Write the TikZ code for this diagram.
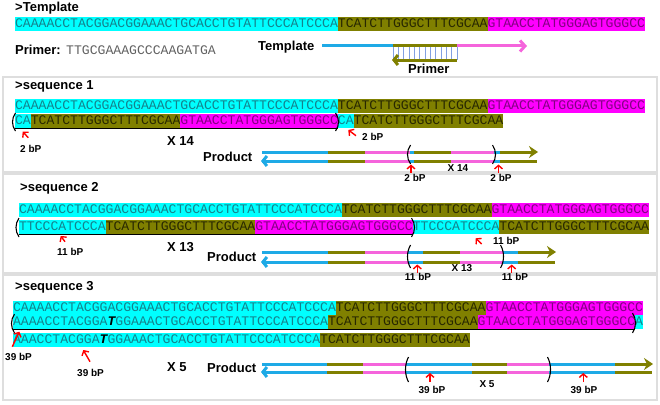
\documentclass[tikz,border=0pt]{standalone}
\usepackage{fontspec}
\setmainfont{Liberation Sans}
\newfontfamily\monof{Liberation Mono}
\usetikzlibrary{arrows.meta}
\newcommand\seqf{\monof\fontsize{13.125}{14}\selectfont}
\newcommand\hdf{\bfseries\fontsize{13}{15}\selectfont}
\newcommand\smf{\bfseries\fontsize{10}{12}\selectfont}
\definecolor{cyanH}{RGB}{0,255,255}
\definecolor{oliveH}{RGB}{128,128,0}
\definecolor{magH}{RGB}{255,0,255}
\definecolor{cyanT}{RGB}{20,130,140}
\definecolor{oliveT}{RGB}{40,40,0}
\definecolor{magT}{RGB}{130,0,130}
\definecolor{lblue}{RGB}{30,170,230}
\definecolor{lpink}{RGB}{245,100,220}
\definecolor{olv}{RGB}{128,128,0}
\definecolor{hatchc}{RGB}{130,160,225}
\definecolor{panelc}{RGB}{222,222,222}
\newcommand\myLbr[3]{\draw[brk] ({#1+2.5},#2) .. controls ({#1-1.5},{#2+0.3*(#3-#2)}) and ({#1-1.5},{#2+0.7*(#3-#2)}) .. ({#1+2.5},#3);}
\newcommand\myRbr[3]{\draw[brk] ({#1-2.5},#2) .. controls ({#1+1.5},{#2+0.3*(#3-#2)}) and ({#1+1.5},{#2+0.7*(#3-#2)}) .. ({#1-2.5},#3);}
\tikzset{
  seg/.style={inner sep=0pt, outer sep=0pt, minimum height=14pt, anchor=west, font=\seqf, text height=9.5pt, text depth=2.5pt},
  cy/.style={seg, fill=cyanH, text=cyanT},
  ol/.style={seg, fill=oliveH, text=oliveT},
  mg/.style={seg, fill=magH, text=magT},
  hd/.style={anchor=base west, inner sep=0pt, font=\hdf},
  sm/.style={anchor=base west, inner sep=0pt, font=\smf},
  smc/.style={anchor=base, inner sep=0pt, font=\smf},
  brk/.style={black, line width=1.1pt},
  uline/.style={black, line width=0.8pt},
  redarr/.style={red, line width=1.4pt, -{Straight Barb[length=3.5pt,width=8pt]}},
  panel/.style={draw=panelc, line width=1.5pt},
  pl/.style={line width=3pt},
  hatch/.style={hatchc, line width=0.6pt},
}
\newcommand\bT{{\color{black}\bfseries\itshape T}}
\begin{document}
\begin{tikzpicture}[x=1pt,y=-1pt]
\useasboundingbox (0,0) rectangle (660,404);
% ---------- Template ----------
\node[hd] (hT) at (15,12) {>Template};
\node[cy] (t1) at (15,24) {CAAAACCTACGGACGGAAACTGCACCTGTATTCCCATCCCA};
\node[ol] (t2) at (t1.east) {TCATCTTGGGCTTTCGCAA};
\node[mg] (t3) at (t2.east) {GTAACCTATGGGAGTGGGCC};
\node[hd] (pr) at (15,55) {Primer:};
\node[anchor=base west, inner sep=0pt, font=\seqf, text=black!62] (prs) at (66,55) {TTGCGAAAGCCCAAGATGA};
\node[hd] (tl) at (258,51) {Template};
\coordinate (tA) at (322,46);
\coordinate (tB) at (393,46);
\coordinate (tC) at (457,46);
\coordinate (tD) at (527,46);
\coordinate (pB) at (392,60);
\coordinate (pC) at (457,60);
\foreach \i in {0,...,12} \draw[hatch] ({393+\i*5.333},46) -- ++(0,14);
\draw[lblue, line width=3pt] (tA) -- (tB);
\draw[olv, line width=3pt] (tB) -- (tC);
\draw[lpink, line width=3pt, -{Straight Barb[length=5pt,width=11pt]}] (tC) -- (tD);
\draw[olv, line width=3pt, {Straight Barb[length=4pt,width=10pt]}-] (pB) -- (pC);
\node[hd] (pl) at (408,73) {Primer};
% ---------- panels ----------
\draw[panel] (3,77) rectangle (657,172);
\draw[panel] (3,174) rectangle (657,273);
\draw[panel] (3,275) rectangle (657,400);
% ---------- sequence 1 ----------
\node[hd] (h1) at (15,89) {>sequence 1};
\node[cy] (a1) at (15,106) {CAAAACCTACGGACGGAAACTGCACCTGTATTCCCATCCCA};
\node[ol] (a2) at (a1.east) {TCATCTTGGGCTTTCGCAA};
\node[mg] (a3) at (a2.east) {GTAACCTATGGGAGTGGGCC};
\node[cy] (b1) at (15,121) {CA};
\node[ol] (b2) at (b1.east) {TCATCTTGGGCTTTCGCAA};
\node[mg] (b3) at (b2.east) {GTAACCTATGGGAGTGGGCC};
\node[cy] (b4) at (b3.east) {CA};
\node[ol] (b5) at (b4.east) {TCATCTTGGGCTTTCGCAA};
\draw[uline] (b1.south west) -- (b3.south east);
\myLbr{13}{113}{131}
\myRbr{338}{113}{131}
\draw[redarr] (28.3,137.7) -- (22.7,131.7);
\node[sm] (l11) at (20,152) {2 bP};
\draw[redarr] (356,135.7) -- (348.3,130);
\node[sm] (l12) at (362,140) {2 bP};
\node[hd] (x1) at (167,145) {X 14};
\node[hd] (p1) at (203,161) {Product};
\foreach \a/\b/\c in {262/328/lblue, 328/365/olv, 365/410/lpink, 410/414/lblue, 414/451/olv, 451/494/lpink, 494/500/lblue}{
  \draw[pl, \c] (\a,152) -- (\b,152);
  \draw[pl, \c] (\a,161) -- (\b,161);
}
\draw[pl, olv, -{Stealth[length=9pt,width=12pt,inset=3pt]}] (500,152) -- (538,152);
\draw[pl, olv] (500,161) -- (537,161);
\draw[pl, lblue, {Straight Barb[length=4pt,width=10pt]}-] (261,161) -- (270,161);
\myLbr{408}{145}{164}
\myRbr{495}{145}{164}
\draw[redarr] (411,172.5) -- (411,164.5);
\draw[redarr] (498.5,172.5) -- (498.5,164.5);
\node[smc] (q11) at (415,181.5) {2 bP};
\node[smc] (q12) at (501,181.5) {2 bP};
\node[smc] (qx1) at (458,171.5) {X 14};
% ---------- sequence 2 ----------
\node[hd] (h2) at (20,191.7) {>sequence 2};
\node[cy] (c1) at (19,210) {CAAAACCTACGGACGGAAACTGCACCTGTATTCCCATCCCA};
\node[ol] (c2) at (c1.east) {TCATCTTGGGCTTTCGCAA};
\node[mg] (c3) at (c2.east) {GTAACCTATGGGAGTGGGCC};
\node[cy] (d1) at (19,227) {TTCCCATCCCA};
\node[ol] (d2) at (d1.east) {TCATCTTGGGCTTTCGCAA};
\node[mg] (d3) at (d2.east) {GTAACCTATGGGAGTGGGCC};
\node[cy] (d4) at (d3.east) {TTCCCATCCCA};
\node[ol] (d5) at (d4.east) {TCATCTTGGGCTTTCGCAA};
\draw[uline] (d1.south west) -- (d3.south east);
\myLbr{16.5}{218}{237}
\myRbr{414}{218}{237}
\draw[redarr] (65,241.7) -- (60.7,236);
\node[sm] (l21) at (57,255) {11 bP};
\draw[redarr] (481.7,244) -- (475.7,238.3);
\node[sm] (l22) at (493,244) {11 bP};
\node[hd] (x2) at (167,251.7) {X 13};
\node[hd] (p2) at (207,261.7) {Product};
\foreach \a/\b/\c in {262/328/lblue, 328/365/olv, 365/408/lpink, 408/423/lblue, 423/460/olv, 460/503/lpink, 503/518/lblue}{
  \draw[pl, \c] (\a,252) -- (\b,252);
  \draw[pl, \c] (\a,262) -- (\b,262);
}
\draw[pl, olv, -{Stealth[length=9pt,width=12pt,inset=3pt]}] (518,252) -- (556,252);
\draw[pl, olv] (518,262) -- (555,262);
\draw[pl, lblue, {Straight Barb[length=4pt,width=10pt]}-] (261,262) -- (270,262);
\myLbr{408}{245}{268}
\myRbr{503}{245}{268}
\draw[redarr] (417.3,272.5) -- (417.3,264.5);
\draw[redarr] (511.7,272.5) -- (511.7,264.5);
\node[smc] (q21) at (418,280.5) {11 bP};
\node[smc] (q22) at (515,280.5) {11 bP};
\node[smc] (qx2) at (462,271) {X 13};
% ---------- sequence 3 ----------
\node[hd] (h3) at (15,290) {>sequence 3};
\node[cy] (e1) at (13,308) {CAAAACCTACGGACGGAAACTGCACCTGTATTCCCATCCCA};
\node[ol] (e2) at (e1.east) {TCATCTTGGGCTTTCGCAA};
\node[mg] (e3) at (e2.east) {GTAACCTATGGGAGTGGGCC};
\node[cy] (f1) at (13,322) {AAAACCTACGGA\bT GGAAACTGCACCTGTATTCCCATCCCA};
\node[ol] (f2) at (f1.east) {TCATCTTGGGCTTTCGCAA};
\node[mg] (f3) at (f2.east) {GTAACCTATGGGAGTGGGCC};
\node[cy] (f4) at (f3.east) {A};
\node[cy] (g1) at (13,340) {AAACCTACGGA\bT GGAAACTGCACCTGTATTCCCATCCCA};
\node[ol] (g2) at (g1.east) {TCATCTTGGGCTTTCGCAA};
\draw[uline] (f1.south west) -- (f3.south east);
\myLbr{12}{314}{333}
\myRbr{635}{313}{333}
\draw[redarr] (12.3,346.7) -- (19.3,331.7);
\node[sm] (l31) at (5,360) {39 bP};
\draw[redarr] (90,361.7) -- (83.3,350);
\node[sm] (l32) at (77,376) {39 bP};
\node[hd] (x3) at (167,371) {X 5};
\node[hd] (p3) at (207,372) {Product};
\foreach \a/\b/\c in {262/327/lblue, 327/363/olv, 363/406/lpink, 406/472/lblue, 472/507/olv, 507/549/lpink, 549/615/lblue}{
  \draw[pl, \c] (\a,364) -- (\b,364);
  \draw[pl, \c] (\a,372) -- (\b,372);
}
\draw[pl, olv, -{Stealth[length=9pt,width=12pt,inset=3pt]}] (615,364) -- (653,364);
\draw[pl, olv] (615,372) -- (652,372);
\draw[pl, lblue, {Straight Barb[length=4pt,width=10pt]}-] (261,372) -- (270,372);
\myLbr{406}{357}{382}
\myRbr{550}{357}{382}
\draw[redarr] (430,382) -- (430,373);
\draw[redarr] (583.3,382) -- (583.3,373);
\node[smc] (q31) at (432,393) {39 bP};
\node[smc] (q32) at (584,393) {39 bP};
\node[smc] (qx3) at (487,387.7) {X 5};
\end{tikzpicture}
\end{document}
